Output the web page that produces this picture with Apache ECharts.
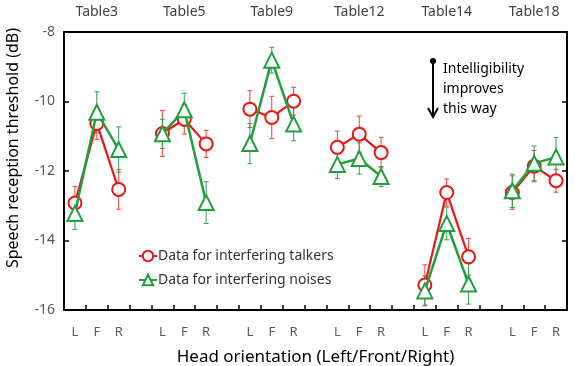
<!DOCTYPE html>
<html>
<head>
<meta charset="utf-8">
<script src="https://cdn.jsdelivr.net/npm/echarts@6/dist/echarts.min.js"></script>
<style>html,body{margin:0;padding:0;background:#fff}#c{width:575px;height:366px}</style>
</head>
<body>
<div id="c"></div>
<script>
// Categories (6 groups of L/F/R separated by empty slots)
const groups = ['Table3', 'Table5', 'Table9', 'Table12', 'Table14', 'Table18'];
const orientations = ['L', 'F', 'R'];
const yTicks = [-16, -14, -12, -10, -8];

// Speech reception thresholds (dB), per group L/F/R
const talkers = [
  [-12.92, -10.63, -12.53],
  [-10.92, -10.51, -11.22],
  [-10.22, -10.46, -9.99],
  [-11.32, -10.94, -11.47],
  [-15.28, -12.62, -14.47],
  [-12.62, -11.86, -12.28]
];
const noises = [
  [-13.22, -10.31, -11.38],
  [-10.93, -10.24, -12.91],
  [-11.21, -8.81, -10.65],
  [-11.81, -11.64, -12.16],
  [-15.45, -13.51, -15.25],
  [-12.57, -11.78, -11.60]
];
// Error bar half-widths (dB)
const talkersErr = [
  [0.47, 0.46, 0.57],
  [0.66, 0.43, 0.39],
  [0.53, 0.61, 0.40],
  [0.47, 0.52, 0.44],
  [0.58, 0.39, 0.53],
  [0.48, 0.45, 0.33]
];
const noisesErr = [
  [0.46, 0.59, 0.65],
  [0.42, 0.48, 0.60],
  [0.58, 0.37, 0.48],
  [0.40, 0.45, 0.29],
  [0.43, 0.47, 0.58],
  [0.48, 0.50, 0.56]
];

// Build category axis
const cats = [], topCats = [], idx = [];
groups.forEach((g, gi) => {
  if (gi > 0) { cats.push(''); topCats.push(''); }
  const row = [];
  orientations.forEach((o, oi) => {
    row.push(cats.length);
    cats.push(o);
    topCats.push(oi === 1 ? g : '');
  });
  idx.push(row);
});
function lineData(vals) {
  const d = cats.map(() => null);
  vals.forEach((row, gi) => row.forEach((v, oi) => { d[idx[gi][oi]] = v; }));
  return d;
}
function errData(vals, errs) {
  const d = [];
  vals.forEach((row, gi) => row.forEach((v, oi) => {
    d.push([idx[gi][oi], v - errs[gi][oi], v + errs[gi][oi]]);
  }));
  return d;
}
const RED = '#f01414', GREEN = '#1ea03c';
function errSeries(data, color) {
  return {
    type: 'custom', z: 1, silent: true,
    renderItem: function (params, api) {
      const x = api.value(0);
      const lo = api.coord([x, api.value(1)]);
      const hi = api.coord([x, api.value(2)]);
      const w = 2.5;
      const st = { stroke: color, lineWidth: 1 };
      return { type: 'group', children: [
        { type: 'line', shape: { x1: lo[0], y1: lo[1], x2: hi[0], y2: hi[1] }, style: st },
        { type: 'line', shape: { x1: lo[0] - w, y1: lo[1], x2: lo[0] + w, y2: lo[1] }, style: st },
        { type: 'line', shape: { x1: hi[0] - w, y1: hi[1], x2: hi[0] + w, y2: hi[1] }, style: st }
      ]};
    },
    encode: { x: 0, y: [1, 2] },
    data: data
  };
}
const FONT = 'Noto Sans';
const chart = echarts.init(document.getElementById('c'), null, { renderer: 'canvas' });
chart.setOption({
  animation: false,
  textStyle: { fontFamily: FONT },
  grid: { left: 64, right: 8, top: 32, bottom: 56, containLabel: false, outerBoundsMode: 'none' },
  legend: {
    orient: 'vertical', left: 133, top: 244, itemGap: 10,
    itemWidth: 18, itemHeight: 13,
    textStyle: { fontFamily: FONT, fontSize: 14, color: '#333', padding: [0, 0, 0, -4] },
    data: ['Data for interfering talkers', 'Data for interfering noises']
  },
  xAxis: [
    {
      type: 'category', data: cats, position: 'bottom',
      axisLine: { lineStyle: { color: '#000', width: 2 } },
      axisTick: { show: true, inside: true, length: 5, interval: 0, lineStyle: { color: '#000', width: 1.5 } },
      axisLabel: { interval: 0, color: '#595959', fontSize: 13, margin: 16 },
      name: 'Head orientation (Left/Front/Right)', nameLocation: 'middle', nameGap: 39,
      nameTextStyle: { fontSize: 17, color: '#000' }
    },
    {
      type: 'category', data: topCats, position: 'top',
      axisLine: { lineStyle: { color: '#000', width: 2 } },
      axisTick: { show: false },
      axisLabel: { interval: 0, color: '#404040', fontSize: 14, margin: 13 }
    }
  ],
  yAxis: [
    {
      type: 'value', min: -16, max: -8, interval: 2, position: 'left',
      axisLine: { show: true, lineStyle: { color: '#000', width: 2 } },
      axisTick: { show: true, inside: true, length: 5, lineStyle: { color: '#000', width: 1.5 } },
      axisLabel: { color: '#595959', fontSize: 14, margin: 9 },
      splitLine: { show: false }
    },
    {
      type: 'value', min: -16, max: -8, interval: 2, position: 'right',
      axisLine: { show: true, lineStyle: { color: '#000', width: 2 } },
      axisTick: { show: true, inside: true, length: 5, lineStyle: { color: '#000', width: 1.5 } },
      axisLabel: { show: false },
      splitLine: { show: false }
    }
  ],
  graphic: [
    { type: 'text', rotation: Math.PI / 2, position: [13, 148],
      style: { text: 'Speech reception threshold (dB)', fontFamily: FONT, fontSize: 16, fill: '#000', textAlign: 'center', textVerticalAlign: 'middle' } },
    { type: 'circle', shape: { cx: 433, cy: 61, r: 3 }, style: { fill: '#000' } },
    { type: 'line', shape: { x1: 433, y1: 61, x2: 433, y2: 115 }, style: { stroke: '#000', lineWidth: 2 } },
    { type: 'polyline', shape: { points: [[428, 108], [433, 117], [438, 108]] }, style: { stroke: '#000', lineWidth: 2, fill: null } },
    { type: 'text', x: 443, y: 59, style: { text: 'Intelligibility\nimproves\nthis way', fontFamily: FONT, fontSize: 14, lineHeight: 20, fill: '#000' } }
  ],
  series: [
    errSeries(errData(talkers, talkersErr), '#f04040'),
    errSeries(errData(noises, noisesErr), '#30a050'),
    {
      name: 'Data for interfering talkers', type: 'line', data: lineData(talkers),
      connectNulls: false, symbol: 'circle', symbolSize: 13, z: 3,
      lineStyle: { color: RED, width: 2.2 },
      itemStyle: { color: '#fff', borderColor: RED, borderWidth: 2 }
    },
    {
      name: 'Data for interfering noises', type: 'line', data: lineData(noises),
      connectNulls: false, symbol: 'triangle', symbolSize: 15, z: 4,
      lineStyle: { color: GREEN, width: 2.5 },
      itemStyle: { color: '#fff', borderColor: GREEN, borderWidth: 2 }
    }
  ]
});
</script>
</body>
</html>
